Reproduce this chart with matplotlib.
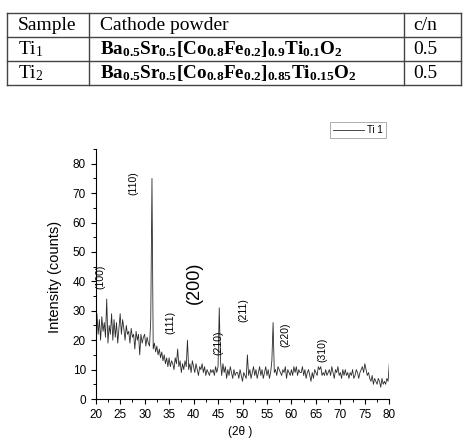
import numpy as np
import matplotlib
matplotlib.use("Agg")
import matplotlib.pyplot as plt
from matplotlib.lines import Line2D

plt.rcParams['font.family'] = ['Liberation Sans', 'DejaVu Sans']
plt.rcParams['mathtext.fontset'] = 'custom'
plt.rcParams['mathtext.rm'] = 'Liberation Serif'
plt.rcParams['mathtext.it'] = 'Liberation Serif:italic'
plt.rcParams['mathtext.bf'] = 'Liberation Serif:bold'

# ---------------- data ----------------
two_theta = np.arange(20, 80.001, 0.25)
intensity = [
    24, 29, 22, 27,   # 20
    20, 28, 23, 26,   # 21
    21, 34, 19, 25,   # 22
    22, 29, 20, 27,   # 23
    21, 26, 19, 24,   # 24
    29, 22, 27, 24,   # 25
    20, 25, 22, 23,   # 26
    19, 24, 21, 22,   # 27
    17, 23, 20, 22,   # 28
    15, 22, 19, 21,   # 29
    22, 18, 21, 19,   # 30
    18, 27, 75, 17,   # 31
    19, 16, 18, 15,   # 32
    17, 14, 16, 13,   # 33
    15, 12, 14, 11,   # 34
    14, 11, 13, 12,   # 35
    10, 14, 12, 17,   # 36
    11, 13, 9, 12,    # 37
    10, 13, 11, 20,   # 38
    10, 12, 9, 13,    # 39
    11, 9, 12, 10,    # 40
    8, 11, 10, 12,    # 41
    9, 11, 8, 10,     # 42
    9, 8, 10, 9,      # 43
    10, 8, 11, 9,     # 44
    11, 31, 13, 8,    # 45
    12, 9, 11, 7,     # 46
    10, 8, 11, 9,     # 47
    7, 10, 8, 9,      # 48
    9, 7, 10, 8,      # 49
    6, 9, 8, 7,       # 50
    15, 8, 10, 7,     # 51
    9, 11, 8, 10,     # 52
    7, 9, 11, 8,      # 53
    10, 7, 9, 11,     # 54
    8, 10, 7, 9,      # 55
    13, 26, 9, 10,    # 56
    8, 11, 10, 9,     # 57
    8, 10, 9, 11,     # 58
    7, 10, 9, 8,      # 59
    10, 8, 11, 9,     # 60
    11, 8, 10, 9,     # 61
    9, 11, 8, 10,     # 62
    7, 9, 10, 8,      # 63
    6, 9, 7, 10,      # 64
    9, 8, 11, 10,     # 65
    11, 8, 9, 8,      # 66
    10, 8, 9, 10,     # 67
    8, 11, 9, 7,      # 68
    10, 9, 11, 8,     # 69
    9, 7, 10, 8,      # 70
    10, 8, 9, 7,      # 71
    9, 8, 10, 7,      # 72
    8, 10, 9, 7,      # 73
    9, 10, 11, 9,     # 74
    12, 10, 8, 9,     # 75
    7, 6, 8, 5,       # 76
    7, 6, 5, 7,       # 77
    6, 4, 7, 5,       # 78
    6, 5, 7, 6,       # 79
    12,               # 80
]

peak_labels = ['(100)', '(110)', '(111)', '(200)', '(210)', '(211)', '(220)', '(310)']
peak_label_x = [20.9, 27.6, 35.2, 40.1, 45.0, 50.1, 58.7, 66.3]
peak_label_y = [41.5, 73.5, 26.2, 39.5, 19.1, 30.3, 21.8, 16.7]
peak_label_size = [7.5, 7.5, 7.5, 13, 7.5, 7.5, 7.5, 7.5]

table_header = ['Sample', 'Cathode powder', 'c/n']
table_samples = [r'Ti$_1$', r'Ti$_2$']
table_powders = [r'$\mathbf{Ba_{0.5}Sr_{0.5}[Co_{0.8}Fe_{0.2}]_{0.9}Ti_{0.1}O_2}$',
                 r'$\mathbf{Ba_{0.5}Sr_{0.5}[Co_{0.8}Fe_{0.2}]_{0.85}Ti_{0.15}O_2}$']
table_cn = ['0.5', '0.5']

# ---------------- figure ----------------
W, H = 474, 444
fig = plt.figure(figsize=(W / 100, H / 100), dpi=100)

def fx(px):
    return px / W

def fy(py):
    return 1 - py / H

# table
tcol = '#444444'
tlw = 1.0
top, bot = 13, 85
rows = [13, 37, 61, 85]
for r in rows:
    fig.add_artist(Line2D([fx(7), fx(461)], [fy(r), fy(r)], color=tcol, lw=tlw))
for c in [7, 89, 404, 461]:
    fig.add_artist(Line2D([fx(c), fx(c)], [fy(top), fy(bot)], color=tcol, lw=tlw))

serif = 'Liberation Serif'
tfs = 14
fig.text(fx(18), fy(25), table_header[0], family=serif, fontsize=tfs, va='center', ha='left')
fig.text(fx(100), fy(25), table_header[1], family=serif, fontsize=tfs, va='center', ha='left')
fig.text(fx(413), fy(25), table_header[2], family=serif, fontsize=tfs, va='center', ha='left')
for i in range(2):
    yc = fy(49 + 24 * i)
    fig.text(fx(18), yc, table_samples[i], family=serif, fontsize=tfs, va='center', ha='left')
    fig.text(fx(100), yc, table_powders[i], family=serif, fontsize=13.8, va='center', ha='left')
    fig.text(fx(413), yc, table_cn[i], family=serif, fontsize=tfs, va='center', ha='left')

# chart
ax = fig.add_axes([fx(95.7), fy(399), (389.3 - 95.7) / W, (399 - 149) / H])
ax.plot(two_theta, intensity, color='#2a2a2a', lw=0.6, label='Ti 1')
ax.set_xlim(20, 80)
ax.set_ylim(0, 85)
ax.set_xticks(np.arange(20, 81, 5))
ax.set_xticks(np.arange(20, 81, 2.5), minor=True)
ax.set_yticks(np.arange(0, 81, 10))
ax.set_yticks(np.arange(0, 86, 5), minor=True)
for s in ['top', 'right']:
    ax.spines[s].set_visible(False)
for s in ['left', 'bottom']:
    ax.spines[s].set_linewidth(0.8)
ax.tick_params(which='major', direction='out', length=3.5, width=0.8, labelsize=8.5)
ax.tick_params(which='minor', direction='out', length=2, width=0.7)

for lab, x, y, s in zip(peak_labels, peak_label_x, peak_label_y, peak_label_size):
    ax.text(x, y, lab, rotation=90, ha='center', va='center', fontsize=s)

fig.text(fx(55), fy(277), 'Intensity (counts)', rotation=90, ha='center', va='center', fontsize=10.5)
fig.text(fx(240), fy(432), '(2θ )', ha='center', va='center', fontsize=8.5)

leg = ax.legend(loc='lower right', bbox_to_anchor=(fx(386), fy(138)), bbox_transform=fig.transFigure,
                fontsize=7, frameon=True, fancybox=False, handlelength=3.2, borderpad=0.3,
                handletextpad=0.3, borderaxespad=0)
leg.get_frame().set_edgecolor('#888888')
leg.get_frame().set_linewidth(0.6)

fig.savefig('out.png', dpi=100)
